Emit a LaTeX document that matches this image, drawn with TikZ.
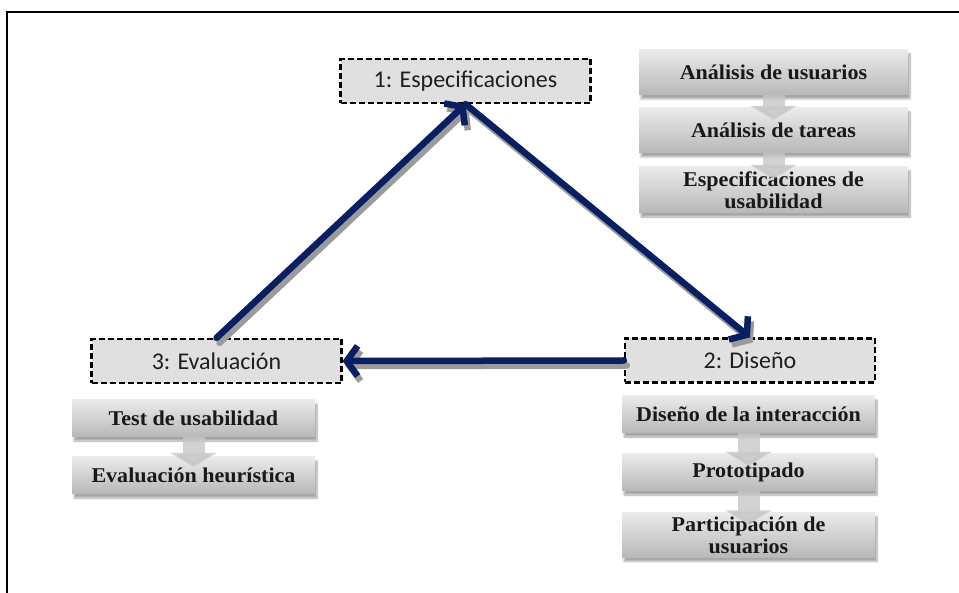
\documentclass[tikz,border=0pt]{standalone}
\usepackage{fontspec}
\setmainfont{Liberation Serif}
\newfontfamily\labelfont{Carlito}
\newfontfamily\stepfont{Liberation Serif Bold}[FakeStretch=1.05]
\usetikzlibrary{arrows.meta,shadows.blur}

\definecolor{flownavy}{RGB}{8,32,98}
\definecolor{flowshade}{RGB}{155,155,155}
\definecolor{phasefill}{RGB}{224,224,224}

\begin{document}
\begin{tikzpicture}[x=1pt,y=-1pt,
  phase/.style={draw=black, dash pattern=on 6pt off 3pt, line width=2.2pt,
    fill=phasefill, minimum width=250pt, minimum height=44pt, inner sep=0pt,
    font=\labelfont\fontsize{24}{26}\selectfont, text=black!88},
  task/.style={top color=black!8, bottom color=black!28, inner sep=0pt,
    align=center, font=\stepfont\fontsize{21}{22}\selectfont, text=black!90,
    blur shadow={shadow xshift=2pt, shadow yshift=-4pt, shadow opacity=35,
      shadow blur steps=8}},
  flow/.style={draw=flownavy, line width=6.5pt,
    -{Straight Barb[length=11pt,width=30pt]}, line cap=round, line join=round},
  flowshadow/.style={flow, draw=flowshade,
    transform canvas={xshift=3pt,yshift=-5pt}},
  downstep/.style={draw=black!22, line width=22pt, opacity=0.8,
    -{Triangle[length=14pt,width=46pt]}}
]
\useasboundingbox (0,0) rectangle (959,593);

% page frame
\draw[line width=1.6pt] (7,593) -- (7,12) -- (959,12);

% the three phases
\node[phase] (n1) at (465.5,81) {1: Especificaciones};
\node[phase] (n2) at (750,360.5) {2: Diseño};
\node[phase] (n3) at (216.5,361) {3: Evaluación};

% activities of phase 1
\node[task, minimum width=269pt, minimum height=45pt] (u1) at (773.5,72.5) {Análisis de usuarios};
\node[task, minimum width=269pt, minimum height=45pt] (u2) at (773.5,130.5) {Análisis de tareas};
\node[task, minimum width=269pt, minimum height=46pt] (u3) at (773.5,190) {Especificaciones de\\usabilidad};

% activities of phase 3
\node[task, minimum width=243pt, minimum height=37pt] (e1) at (193.5,418.5) {Test de usabilidad};
\node[task, minimum width=243pt, minimum height=37pt] (e2) at (193.5,475.5) {Evaluación heurística};

% activities of phase 2
\node[task, minimum width=253pt, minimum height=37pt] (d1) at (748.5,414.5) {Diseño de la interacción};
\node[task, minimum width=253pt, minimum height=37pt] (d2) at (748.5,472.5) {Prototipado};
\node[task, minimum width=253pt, minimum height=45pt] (d3) at (748.5,535) {Participación de\\usuarios};

% step arrows inside each list
\draw[downstep] (u1.south) -- ([yshift=-12pt]u2.north);
\draw[downstep] (u2.south) -- ([yshift=-12pt]u3.north);
\draw[downstep] (e1.south) -- ([yshift=-10pt]e2.north);
\draw[downstep] (d1.south) -- ([yshift=-12pt]d2.north);
\draw[downstep] (d2.south) -- ([yshift=-12pt]d3.north);

% cycle between the phases
\draw[flowshadow] (n3.north) -- (n1.south);
\draw[flowshadow] (n1.south) -- (n2.north);
\draw[flowshadow] (n2.west) -- (n3.east);
\draw[flow] (n3.north) -- (n1.south);
\draw[flow] (n1.south) -- (n2.north);
\draw[flow] (n2.west) -- (n3.east);
\end{tikzpicture}
\end{document}
